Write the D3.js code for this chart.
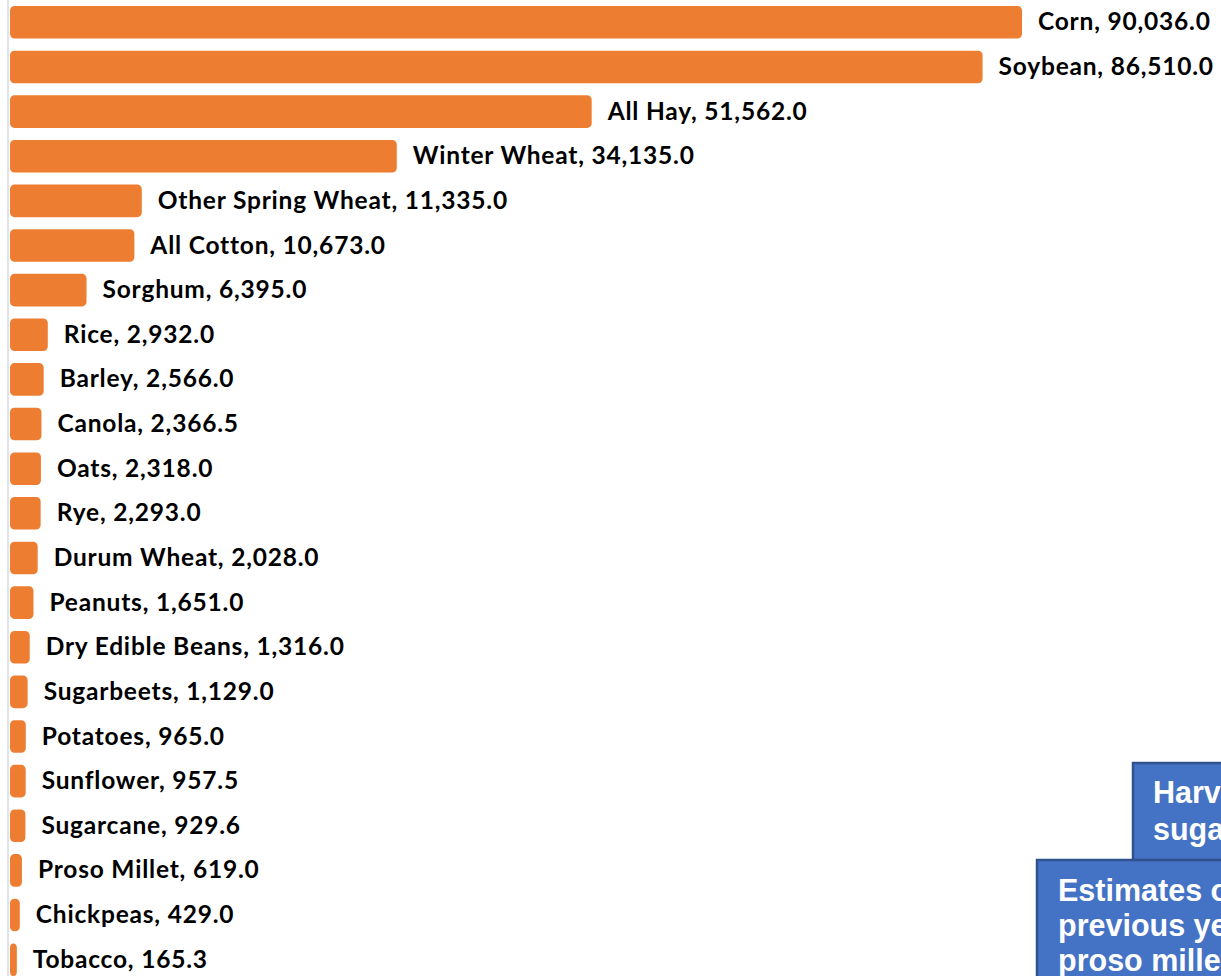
<!DOCTYPE html>
<html>
<head>
<meta charset="utf-8">
<script src="https://cdn.jsdelivr.net/npm/d3@7"></script>
<style>
  html, body { margin: 0; padding: 0; background: #fff; overflow: hidden; }
  svg { display: block; }
</style>
</head>
<body>
<svg id="chart" width="1221" height="976"></svg>
<script>
// Harvested area by crop (1,000 acres)
const crops = [
  "Corn", "Soybean", "All Hay", "Winter Wheat", "Other Spring Wheat",
  "All Cotton", "Sorghum", "Rice", "Barley", "Canola", "Oats", "Rye",
  "Durum Wheat", "Peanuts", "Dry Edible Beans", "Sugarbeets", "Potatoes",
  "Sunflower", "Sugarcane", "Proso Millet", "Chickpeas", "Tobacco"
];
const areas = [
  90036.0, 86510.0, 51562.0, 34135.0, 11335.0,
  10673.0, 6395.0, 2932.0, 2566.0, 2366.5, 2318.0, 2293.0,
  2028.0, 1651.0, 1316.0, 1129.0, 965.0,
  957.5, 929.6, 619.0, 429.0, 165.3
];

// Note boxes in the lower right corner
const noteTop = ["Harvested area for", "sugarcane is for sugar"];
const noteBottom = ["Estimates of", "previous year for", "proso millet and"];

const W = 1221, H = 976;
const svg = d3.select("#chart");

const data = crops.map((c, i) => ({ crop: c, value: areas[i] }));

const barStroke = 5;
const x0 = 10 + barStroke / 2;

const x = d3.scaleLinear()
  .domain([0, 90036])
  .range([x0, x0 + 1007]);

const y = d3.scaleBand()
  .domain(crops)
  .range([0, 982])
  .paddingInner(0.27)
  .paddingOuter(0.135);

// vertical category axis (no ticks, just the line)
const yAxis = d3.axisLeft(y).tickSize(0).tickFormat("");
const axisG = svg.append("g")
  .attr("transform", "translate(8,0)")
  .call(yAxis);
axisG.select(".domain")
  .attr("d", `M0,0V${H}`)
  .attr("stroke", "#D9D9E0")
  .attr("stroke-width", 1.5);

const orange = "#ED7D31";

// bars
svg.append("g")
  .selectAll("rect")
  .data(data)
  .join("rect")
  .attr("x", x(0))
  .attr("y", d => y(d.crop) + barStroke / 2)
  .attr("width", d => x(d.value) - x(0))
  .attr("height", y.bandwidth() - barStroke)
  .attr("rx", 2)
  .attr("fill", orange)
  .attr("stroke", orange)
  .attr("stroke-width", barStroke)
  .attr("stroke-linejoin", "round");

// data labels
const fmt = d3.format(",.1f");
svg.append("g")
  .selectAll("text")
  .data(data)
  .join("text")
  .attr("x", d => x(d.value) + barStroke / 2 + 16)
  .attr("y", d => y(d.crop) + y.bandwidth() / 2)
  .attr("dy", "0.33em")
  .attr("font-family", "Lato, 'Open Sans', sans-serif")
  .attr("font-weight", 700)
  .attr("font-size", 24.5)
  .attr("letter-spacing", 0.8)
  .attr("fill", "#000")
  .text(d => `${d.crop}, ${fmt(d.value)}`);

// note boxes
function noteBox(left, top, lines, textX, firstBaseline, lineGap) {
  const g = svg.append("g");
  g.append("rect")
    .attr("x", left)
    .attr("y", top)
    .attr("width", W - left + 20)
    .attr("height", H - top + 20)
    .attr("fill", "#4472C4")
    .attr("stroke", "#2F528F")
    .attr("stroke-width", 2.5);
  g.append("text")
    .attr("font-family", "'Liberation Sans', Arial, sans-serif")
    .attr("font-weight", 700)
    .attr("font-size", 30.5)
    .attr("fill", "#fff")
    .selectAll("tspan")
    .data(lines)
    .join("tspan")
    .attr("x", textX)
    .attr("y", (d, i) => firstBaseline + i * lineGap)
    .text(d => d);
}
noteBox(1133, 763, noteTop, 1153, 803, 37);
noteBox(1037, 860, noteBottom, 1058, 901, 35);
</script>
</body>
</html>
